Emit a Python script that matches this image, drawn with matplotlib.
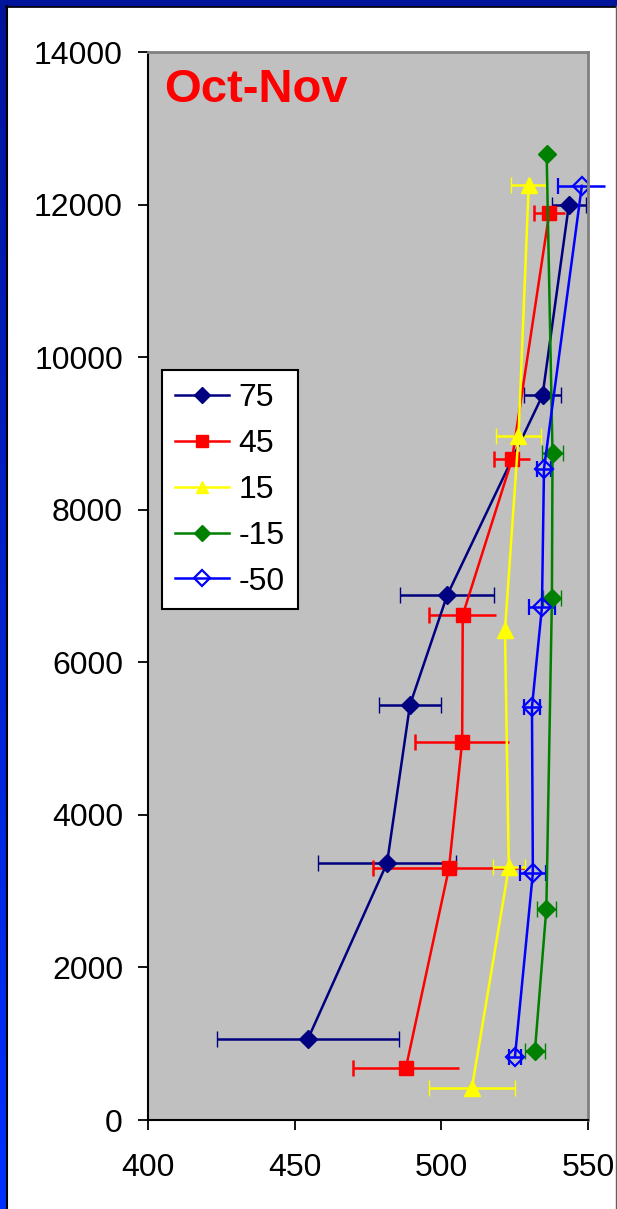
import numpy as np
import matplotlib
matplotlib.use('Agg')
import matplotlib.pyplot as plt
from matplotlib.lines import Line2D
from matplotlib.colors import LinearSegmentedColormap

plt.rcParams['font.family'] = ['Liberation Sans', 'DejaVu Sans']

# latitude bands (legend labels)
labels = ['75', '45', '15', '-15', '-50']
colors = ['#000080', '#ff0000', '#ffff00', '#008000', '#0000ff']
markers = ['D', 's', '^', 'D', 'D']

# values: x value, height, x error
x75 = [454.5, 481.5, 489.3, 502.0, 534.5, 543.5]
y75 = [1060, 3370, 5440, 6880, 9500, 12000]
e75 = [31.0, 23.5, 10.5, 16.0, 6.3, 5.8]

x45 = [487.9, 502.6, 507.1, 507.3, 524.1, 536.8]
y45 = [680, 3300, 4960, 6620, 8660, 11890]
e45 = [18.0, 26.0, 16.0, 11.5, 6.0, 5.3]

x15 = [510.4, 523.0, 521.7, 526.3, 529.8]
y15 = [415, 3310, 6420, 8965, 12255]
e15 = [14.7, 5.4, 0.0, 7.6, 6.0]

xm15 = [531.9, 535.8, 537.7, 537.9, 535.9]
ym15 = [905, 2770, 6840, 8750, 12660]
em15 = [3.4, 3.2, 3.0, 3.7, 0.0]

xm50 = [525.1, 531.2, 530.9, 534.3, 535.0, 547.9]
ym50 = [830, 3235, 5415, 6720, 8540, 12245]
em50 = [1.9, 4.4, 2.7, 4.4, 2.4, 8.0]

xs = [x75, x45, x15, xm15, xm50]
ys = [y75, y45, y15, ym15, ym50]
es = [e75, e45, e15, em15, em50]

fig = plt.figure(figsize=(6.17, 12.09), dpi=100)

# blue frame on top and left edge
fr = fig.add_axes([0, 0, 6/617, 1])
grad = np.linspace(0, 1, 200).reshape(-1, 1)
cmap = LinearSegmentedColormap.from_list('frame', ['#0030ff', '#00139a'])
fr.imshow(grad, aspect='auto', cmap=cmap, origin='lower', extent=[0, 1, 0, 1])
fr.axis('off')
fig.patches.append(plt.Rectangle((0, 1 - 6/1209), 1, 6/1209, transform=fig.transFigure,
                                 color='#00159c', zorder=5))
fig.lines.append(plt.Line2D([6.5/617, 6.5/617], [0, 1 - 6/1209], transform=fig.transFigure,
                            color='black', lw=1.5, zorder=6))
fig.lines.append(plt.Line2D([6/617, 1], [1 - 6.8/1209, 1 - 6.8/1209], transform=fig.transFigure,
                            color='black', lw=1.2, zorder=6))
fig.lines.append(plt.Line2D([615.5/617, 615.5/617], [0, 1 - 6/1209], transform=fig.transFigure,
                            color='#606060', lw=1.0, zorder=6))

ax = fig.add_axes([148/617, 1 - 1120/1209, 440/617, 1068/1209])
ax.set_facecolor('#c0c0c0')

handles = []
for i in range(len(labels)):
    c = colors[i]
    mfc = 'none' if labels[i] == '-50' else c
    ms = 9.5 if markers[i] == 's' else (11 if markers[i] == '^' else 9)
    cap = 0 if labels[i] == '45' else 6
    mew = 1.6 if mfc == 'none' else 1
    eb = ax.errorbar(xs[i], ys[i], xerr=es[i], color=c, ecolor=c, elinewidth=1.8,
                     capsize=cap, capthick=1.8, lw=1.8, marker=markers[i], ms=ms,
                     mfc=mfc, mec=c, mew=mew)
    eb[2][0].set_clip_on(False)
    if labels[i] == '45':
        # only the left caps are visible for this series
        lx = [xs[i][k] - es[i][k] for k in range(len(xs[i]))]
        ax.plot(lx, ys[i], ls='none', marker='|', ms=12, mew=1.8, color=c)
    handles.append(Line2D([], [], color=c, lw=1.8, marker=markers[i],
                          ms=ms * 0.85, mfc=mfc, mec=c, mew=mew, label=labels[i]))

ax.set_xlim(400, 550)
ax.set_ylim(0, 14000)
ax.set_xticks([400, 450, 500, 550])
ax.set_yticks(range(0, 14001, 2000))
ax.tick_params(axis='both', direction='out', length=7, width=1.3, labelsize=23, colors='black')
ax.tick_params(axis='y', pad=11)
ax.tick_params(axis='x', pad=17)
for s in ['left', 'bottom']:
    ax.spines[s].set_color('black')
    ax.spines[s].set_linewidth(1.5)
for s in ['top', 'right']:
    ax.spines[s].set_color('#808080')
    ax.spines[s].set_linewidth(2)

ax.text(0.037, 0.985, 'Oct-Nov', transform=ax.transAxes, color='red', fontsize=34,
        fontweight='bold', ha='left', va='top')

leg = ax.legend(handles=handles, loc='upper left', bbox_to_anchor=(14/440, 1 - 318/1068),
                fontsize=23, frameon=True, fancybox=False, edgecolor='black', framealpha=1,
                handlelength=1.7, handletextpad=0.3, labelspacing=0.5, borderpad=0.4,
                borderaxespad=0)
leg.get_frame().set_linewidth(1.5)

fig.savefig('out.png', dpi=100)
